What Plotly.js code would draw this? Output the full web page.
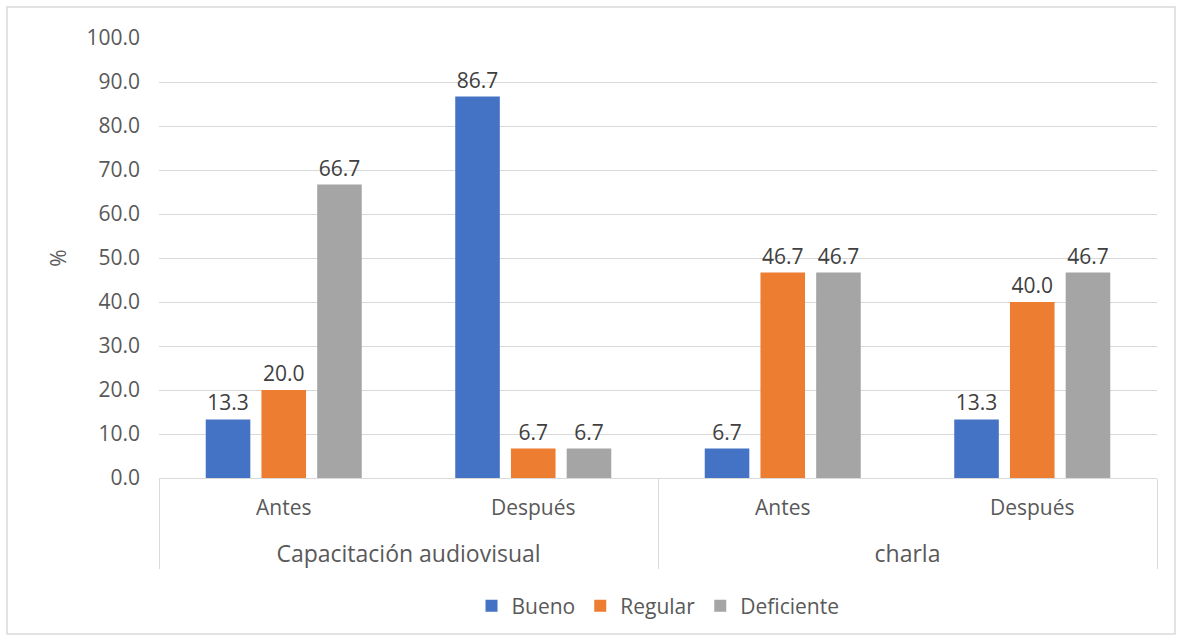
<!DOCTYPE html>
<html>
<head>
<meta charset="utf-8">
<script src="https://cdn.plot.ly/plotly-3.0.1.min.js"></script>
<style>html,body{margin:0;padding:0;background:#fff;}#chart{width:1183px;height:641px;}</style>
</head>
<body>
<div id="chart"></div>
<script>
const groups = ["Capacitación audiovisual","Capacitación audiovisual","charla","charla"];
const moments = ["Antes","Después","Antes","Después"];
const seriesNames = ["Bueno","Regular","Deficiente"];
const bueno = [13.3, 86.7, 6.7, 13.3];
const regular = [20.0, 6.7, 46.7, 40.0];
const deficiente = [66.7, 6.7, 46.7, 46.7];
const colors = ["#4472C4","#ED7D31","#A5A5A5"];
const yTitle = "%";

const font = "Open Sans, Noto Sans, sans-serif";
const groupLabels = groups.map(g => "<br><span style='font-size:23px'>" + g + "</span>");
const data = [bueno, regular, deficiente].map((vals, i) => ({
  type: "bar",
  name: seriesNames[i],
  x: [groupLabels, moments],
  y: vals,
  marker: {color: colors[i]},
  text: vals.map(v => v.toFixed(1)),
  textposition: "outside",
  cliponaxis: false,
  textfont: {family: font, size: 21, color: "#404040"}
}));

const layout = {
  width: 1183, height: 641,
  margin: {l: 159, r: 26, t: 38, b: 163},
  paper_bgcolor: "#fff", plot_bgcolor: "#fff",
  barmode: "group", bargap: 0.33, bargroupgap: 0.2,
  font: {family: font, color: "#595959", size: 21},
  xaxis: {
    type: "multicategory",
    showline: true, linecolor: "#d9d9d9", linewidth: 1,
    showdividers: true, dividercolor: "#d9d9d9", dividerwidth: 1,
    ticks: "", ticklabelstandoff: 11,
    tickfont: {family: font, size: 21, color: "#595959"}
  },
  yaxis: {
    range: [0, 100], dtick: 10, tickformat: ".1f",
    gridcolor: "#d9d9d9", gridwidth: 1, zeroline: false,
    showline: false, ticks: "", ticklabelstandoff: 18,
    tickfont: {family: font, size: 21, color: "#595959"},
    title: {text: yTitle, font: {family: font, size: 21, color: "#595959"}, standoff: 14}
  },
  legend: {
    orientation: "h", x: 0.5, xanchor: "center", y: -0.291, yanchor: "middle",
    font: {family: font, size: 21, color: "#595959"}, traceorder: "normal"
  },
  shapes: [{
    type: "rect", xref: "paper", yref: "paper",
    x0: (7-159)/998, x1: (1175-159)/998, y0: -(634-478)/440, y1: (478-7)/440,
    line: {color: "#d9d9d9", width: 1.5}, fillcolor: "rgba(0,0,0,0)", layer: "below"
  }]
};
Plotly.newPlot("chart", data, layout, {displayModeBar: false, staticPlot: true});
</script>
</body>
</html>
